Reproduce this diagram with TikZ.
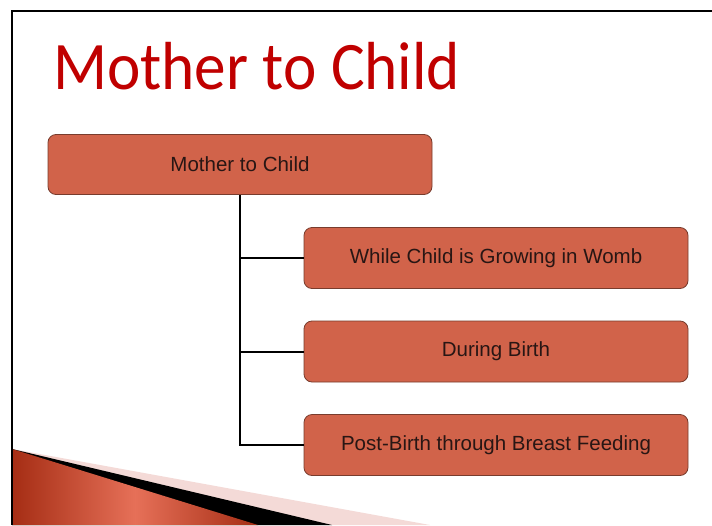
\documentclass[tikz,border=0pt]{standalone}
\usepackage{fontspec}
\setmainfont{Liberation Sans}
\newfontfamily\titlefont{Carlito}
\usetikzlibrary{positioning}

\definecolor{slidered}{RGB}{192,0,0}
\definecolor{boxfill}{RGB}{209,99,74}
\definecolor{boxline}{RGB}{120,60,45}
\definecolor{boxtext}{RGB}{40,22,20}
\definecolor{swooshpink}{RGB}{244,218,215}
\definecolor{swooshdark}{RGB}{165,45,20}
\definecolor{swooshlight}{RGB}{230,112,88}

\tikzset{
  stage/.style={draw=boxline, fill=boxfill, rounded corners=8pt, line width=0.8pt,
    minimum width=384pt, minimum height=61pt, text=boxtext,
    font=\fontsize{20.5}{24}\selectfont},
  link/.style={line width=2pt, black},
}

\begin{document}
\begin{tikzpicture}[x=1pt, y=-1pt]
  \useasboundingbox (0,0) rectangle (712,525);
  \fill[white] (0,0) rectangle (712,525);
  % swoosh in the corner
  \fill[swooshpink] (12,449) -- (430,525) -- (12,525) -- cycle;
  \fill[black] (12,449) -- (332,525) -- (12,525) -- cycle;
  \shade[left color=swooshdark, right color=swooshdark, middle color=swooshlight]
    (12,449) -- (258,525) -- (12,525) -- cycle;
  % slide frame
  \draw[line width=2pt] (12,525) -- (12,11) -- (712,11);
  % title
  \node[anchor=base west, inner sep=0pt, text=slidered,
    font=\titlefont\fontsize{68}{68}\selectfont] (title) at (53,89)
    {\scalebox{0.93}[1]{Mother to Child}};
  % boxes
  \node[stage, minimum height=60pt] (root) at (240,164.5) {Mother to Child};
  \node[stage] (womb) at (496,258) {While Child is Growing in Womb};
  \node[stage] (birth) at (496,351.5) {During Birth};
  \node[stage] (feeding) at (496,445) {Post-Birth through Breast Feeding};
  % connectors
  \draw[link] (root.south) -- (root.south |- feeding.west) -- (feeding.west);
  \draw[link] (root.south |- womb.west) -- (womb.west);
  \draw[link] (root.south |- birth.west) -- (birth.west);
\end{tikzpicture}
\end{document}
